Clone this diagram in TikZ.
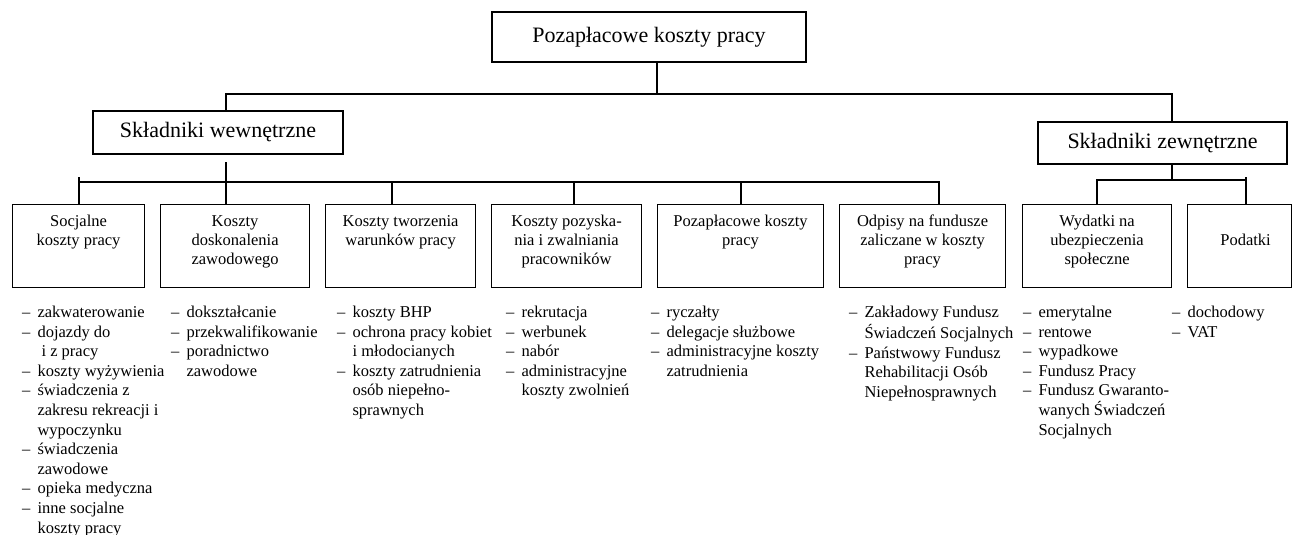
\documentclass[tikz,border=0pt]{standalone}
\usepackage{fontspec}
\setmainfont{Liberation Serif}
\newcommand{\lidash}{\makebox[15.5pt][l]{–}}
\newcommand{\liind}{\hspace*{15.5pt}}
\begin{document}
\begin{tikzpicture}[x=1pt,y=-1pt,
  line width=1.1pt,
  hbox/.style={draw, line width=1.1pt, inner sep=0pt, font=\fontsize{22}{25}\selectfont},
  cbox/.style={draw, line width=1.1pt, inner sep=0pt, anchor=north west, minimum height=83pt},
  btext/.style={inner sep=0pt, anchor=north, align=center, font=\fontsize{16.5}{19.2}\selectfont},
  ltext/.style={inner sep=0pt, anchor=north west, align=left, font=\fontsize{16.5}{19.6}\selectfont},
  conn/.style={line width=1.1pt}]
\useasboundingbox (0,0) rectangle (1294,535);

% headings
\node[hbox, minimum width=314pt, minimum height=50pt] (top) at (649,37) {Pozapłacowe koszty pracy};
\node[hbox, minimum width=250pt, minimum height=43pt] (W) at (218,132.5) {Składniki wewnętrzne};
\node[hbox, minimum width=249pt, minimum height=42pt] (Z) at (1162.5,143) {Składniki zewnętrzne};

% lower boxes
\node[cbox, minimum width=132pt] (b1) at (12,204) {};
\node[cbox, minimum width=149pt] (b2) at (160,204) {};
\node[cbox, minimum width=150pt] (b3) at (325,204) {};
\node[cbox, minimum width=150pt] (b4) at (491,204) {};
\node[cbox, minimum width=166pt] (b5) at (657,204) {};
\node[cbox, minimum width=166pt] (b6) at (839,204) {};
\node[cbox, minimum width=149pt] (b7) at (1022,204) {};
\node[cbox, minimum width=104pt] (b8) at (1187,204) {};

\node[btext] (t1) at ([yshift=-8.3pt]b1.north) {\strut Socjalne\\koszty pracy};
\node[btext] (t2) at ([yshift=-8.3pt]b2.north) {\strut Koszty\\doskonalenia\\zawodowego};
\node[btext] (t3) at ([yshift=-8.3pt]b3.north) {\strut Koszty tworzenia\\warunków pracy};
\node[btext] (t4) at ([yshift=-8.3pt]b4.north) {\strut Koszty pozyska-\\nia i zwalniania\\pracowników};
\node[btext] (t5) at ([yshift=-8.3pt]b5.north) {\strut Pozapłacowe koszty\\pracy};
\node[btext] (t6) at ([yshift=-8.3pt]b6.north) {\strut Odpisy na fundusze\\zaliczane w koszty\\pracy};
\node[btext] (t7) at ([yshift=-8.3pt]b7.north) {\strut Wydatki na\\ubezpieczenia\\społeczne};
\node[btext] (t8) at ([xshift=6pt,yshift=-27.5pt]b8.north) {\strut Podatki};

% connectors
\coordinate (j0) at (657,94);
\coordinate (jW) at (226,94);
\coordinate (jZ) at (1172,94);
\draw[conn] (top.south -| j0) -- (j0);
\draw[conn] (W.north -| jW) -- (jW) -- (jZ) -- (Z.north -| jZ);

\coordinate (iW) at (226,162);
\coordinate (iL) at (79,182);
\coordinate (iR) at (939,182);
\draw[conn] (iW) -- (b2.north -| iW);
\draw[conn] (b1.north -| iL) -- (79,177);
\draw[conn] (iL) -- (iR) -- (b6.north -| iR);
\draw[conn] (iL -| 392,0) -- (b3.north -| 392,0);
\draw[conn] (iL -| 574,0) -- (b4.north -| 574,0);
\draw[conn] (iL -| 741,0) -- (b5.north -| 741,0);

\coordinate (zL) at (1097,180);
\coordinate (zR) at (1246,180);
\draw[conn] (Z.south -| jZ) -- (jZ |- zL);
\draw[conn] (b7.north -| zL) -- (zL) -- (zR);
\draw[conn] (1246,177) -- (b8.north -| zR);

% lists
\node[ltext] (l1) at (21.5,303.3) {\strut\lidash zakwaterowanie\\
\lidash dojazdy do\\
\liind\hspace*{4pt}i z pracy\\
\lidash koszty wyżywienia\\
\lidash świadczenia z\\
\liind zakresu rekreacji i\\
\liind wypoczynku\\
\lidash świadczenia\\
\liind zawodowe\\
\lidash opieka medyczna\\
\lidash inne socjalne\\
\liind koszty pracy};
\node[ltext] (l2) at (170.5,303.3) {\strut\lidash dokształcanie\\
\lidash przekwalifikowanie\\
\lidash poradnictwo\\
\liind zawodowe};
\node[ltext] (l3) at (336.5,303.3) {\strut\lidash koszty BHP\\
\lidash ochrona pracy kobiet\\
\liind i młodocianych\\
\lidash koszty zatrudnienia\\
\liind osób niepełno-\\
\liind sprawnych};
\node[ltext] (l4) at (505.5,303.3) {\strut\lidash rekrutacja\\
\lidash werbunek\\
\lidash nabór\\
\lidash administracyjne\\
\liind koszty zwolnień};
\node[ltext] (l5) at (650.5,303.3) {\strut\lidash ryczałty\\
\lidash delegacje służbowe\\
\lidash administracyjne koszty\\
\liind zatrudnienia};
\node[ltext] (l6) at (848.5,303.3) {\strut\lidash Zakładowy Fundusz\\
\liind Świadczeń Socjalnych\\
\lidash Państwowy Fundusz\\
\liind Rehabilitacji Osób\\
\liind Niepełnosprawnych};
\node[ltext] (l7) at (1022.5,303.3) {\strut\lidash emerytalne\\
\lidash rentowe\\
\lidash wypadkowe\\
\lidash Fundusz Pracy\\
\lidash Fundusz Gwaranto-\\
\liind wanych Świadczeń\\
\liind Socjalnych};
\node[ltext] (l8) at (1171.5,303.3) {\strut\lidash dochodowy\\
\lidash VAT};
\end{tikzpicture}
\end{document}
